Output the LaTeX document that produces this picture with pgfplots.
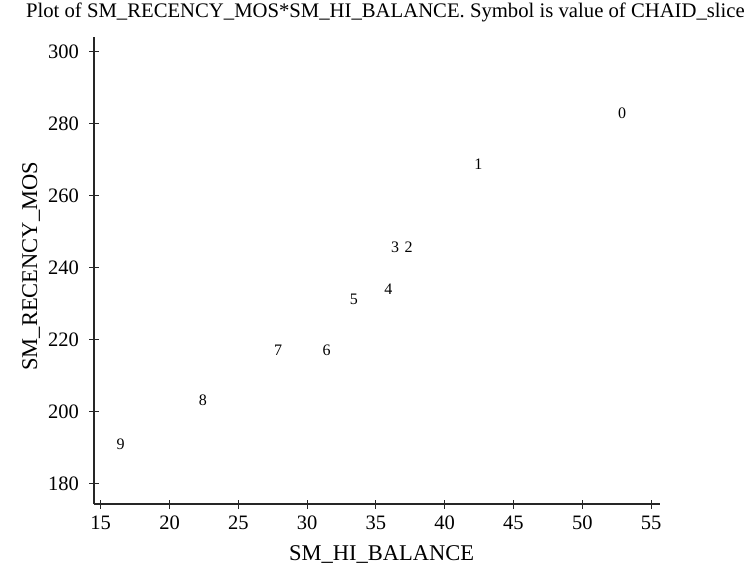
\documentclass[border=0pt]{standalone}
\usepackage{pgfplots}
\pgfplotsset{compat=1.18}
\usepackage{fontspec}
\setmainfont{Liberation Serif}
\pgfplotstableread{
x y lab
52.9 283.0 0
42.44 268.9 1
37.38 245.75 2
36.39 245.75 3
35.9 234.2 4
33.4 231.3 5
31.42 217.0 6
27.9 217.0 7
22.43 203.1 8
16.45 191.1 9
}\datatab
\begin{document}
\begin{tikzpicture}
\begin{axis}[
  name=ax,
  scale only axis,
  width=566pt, height=467.3pt,
  xmin=14.51, xmax=55.65,
  ymin=174.4, ymax=304.25,
  axis lines*=left,
  axis line style={black!85, line width=1.1pt},
  xtick={15,20,...,55},
  ytick={180,200,...,300},
  tick align=center,
  major tick length=9pt,
  tick style={black!85, line width=1pt},
  /pgf/number format/assume math mode=true,
  ticklabel style={font=\fontsize{20.5}{23}\selectfont},
  xticklabel style={yshift=-4pt},
  yticklabel style={xshift=-7pt},
  label style={font=\fontsize{22.5}{25}\selectfont},
  xlabel={SM\_HI\_BALANCE},
  xlabel style={at={(axis description cs:0.508,0)}, anchor=base, yshift=-56pt},
  ylabel={SM\_RECENCY\_MOS},
  ylabel style={at={(axis description cs:-0.111,0.509)}, anchor=center},
  title={Plot of SM\_RECENCY\_MOS*SM\_HI\_BALANCE. Symbol is value of CHAID\_slice},
  title style={font=\fontsize{20.7}{23}\selectfont, at={(axis description cs:0.515,1)}, anchor=base, yshift=13.5pt},
  clip=false,
]
\addplot[only marks, mark=none,
  nodes near coords={\pgfplotspointmeta},
  point meta=explicit symbolic,
  nodes near coords style={anchor=center, font=\fontsize{16}{18}\selectfont, black}]
  table[x=x, y=y, meta=lab] {\datatab};
\end{axis}
\pgfresetboundingbox
\path[use as bounding box] ([shift={(-94pt,-64pt)}]ax.south west) rectangle ([shift={(89pt,36.7pt)}]ax.north east);
\end{tikzpicture}
\end{document}
